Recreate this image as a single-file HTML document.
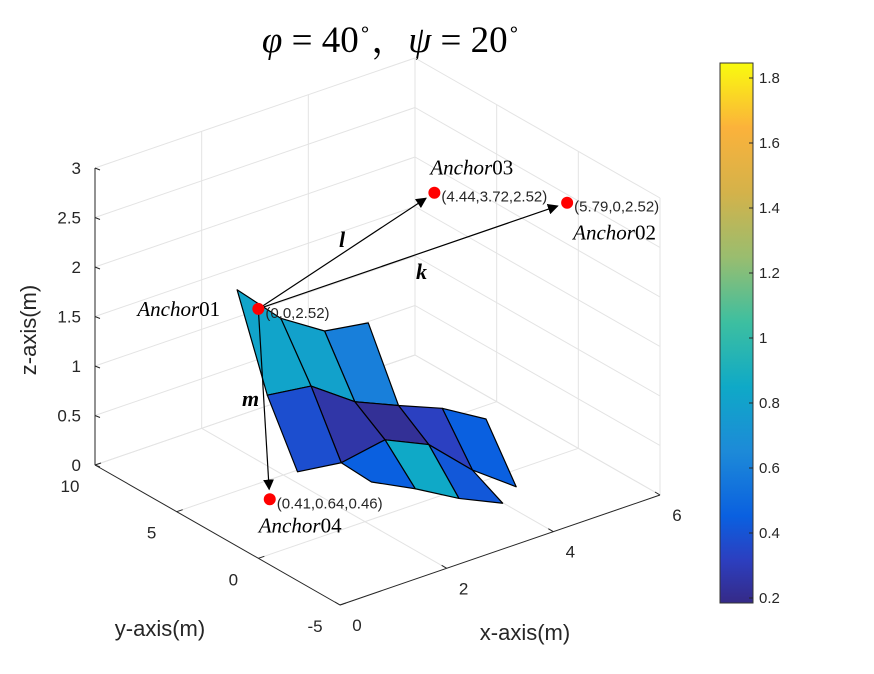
<!DOCTYPE html>
<html><head><meta charset="utf-8"><style>
body{margin:0;background:#fff;}
svg{display:block;font-family:"Liberation Sans",sans-serif;}
.ser{font-family:"Liberation Serif","Noto Serif CJK SC",serif;}
</style></head><body>
<svg id="chart" width="874" height="674" viewBox="0 0 874 674">
<defs>
<linearGradient id="parula" x1="0" y1="1" x2="0" y2="0">
<stop offset="0" stop-color="#352a87"/><stop offset="0.08" stop-color="#2c3fc0"/>
<stop offset="0.16" stop-color="#0a60e0"/><stop offset="0.28" stop-color="#1d8ad8"/>
<stop offset="0.4" stop-color="#0fa9c7"/><stop offset="0.52" stop-color="#3dbfa0"/>
<stop offset="0.64" stop-color="#99bd6f"/><stop offset="0.76" stop-color="#d4b24a"/>
<stop offset="0.88" stop-color="#fbb23b"/><stop offset="1" stop-color="#f9fb0e"/>
</linearGradient>
<marker id="arr" viewBox="0 0 10 10" refX="9" refY="5" markerWidth="9" markerHeight="9" orient="auto-start-reverse"><path d="M0,0L10,5L0,10z" fill="#000"/></marker>
</defs>
<text x="391" y="52" text-anchor="middle" class="ser" font-size="37"><tspan font-style="italic">φ</tspan> = 40<tspan font-size="20" dy="-16">∘</tspan><tspan dy="16">，</tspan><tspan font-style="italic">ψ</tspan> = 20<tspan font-size="20" dy="-16">∘</tspan></text>
<g id="grid"></g>
<g id="axes"></g>
<g id="surf"></g>
<g id="anno"></g>
<rect x="720" y="63" width="33" height="540" fill="url(#parula)" stroke="#333" stroke-width="1"/>
<g id="cbar"></g>
<text transform="translate(36,330) rotate(-90)" text-anchor="middle" font-size="22" fill="#262626">z-axis(m)</text>
<text x="160" y="636" text-anchor="middle" font-size="22" fill="#262626">y-axis(m)</text>
<text x="525" y="640" text-anchor="middle" font-size="22" fill="#262626">x-axis(m)</text>
</svg>
<script>
const xTicks=[0,2,4,6];
const yTicks=[-5,0,5,10];
const zTicks=[0,0.5,1,1.5,2,2.5,3];
const zTickLabels=["0","0.5","1","1.5","2","2.5","3"];
const cTicks=[0.2,0.4,0.6,0.8,1,1.2,1.4,1.6,1.8];
const gridX=[0,0.82,1.64,2.46,3.28,4.1];
const gridY=[1.3,-0.55,-2.4,-4.25];
const zRow0=[2.59,2.15,1.87,1.80,null,null];
const zRow1=[1.70,1.64,1.33,1.14,0.96,0.70];
const zRow2=[1.10,1.04,1.12,0.92,0.51,0.19];
const zRow3=[null,1.02,0.80,0.55,0.35,null];
const cRow0=[0.82,0.8,0.6,null,null];
const cRow1=[0.38,0.26,0.22,0.32,0.45];
const cRow2=[null,0.45,0.85,0.42,0.45];
const anchorNames=["Anchor01","Anchor02","Anchor03","Anchor04"];
const anchorX=[0,5.79,4.44,0.41];
const anchorY=[0,0,3.72,0.64];
const anchorZ=[2.52,2.52,2.52,0.46];
const anchorLabels=["(0,0,2.52)","(5.79,0,2.52)","(4.44,3.72,2.52)","(0.41,0.64,0.46)"];

const NS="http://www.w3.org/2000/svg";
const X0=0,X1=6,Y0=-5,Y1=10,Z0=0,Z1=3;
function P(x,y,z){const a=(x-X0)/(X1-X0),b=(y-Y0)/(Y1-Y0);
 return [340+320*a-245*b, 605-110*a-140*b-99*(z-Z0)];}
function el(t,at,parent){const e=document.createElementNS(NS,t);for(const k in at)e.setAttribute(k,at[k]);parent.appendChild(e);return e;}
const grid=document.getElementById('grid'),axes=document.getElementById('axes'),surf=document.getElementById('surf'),anno=document.getElementById('anno'),cbar=document.getElementById('cbar');
function line(p,q,g,st,w){return el('line',{x1:p[0],y1:p[1],x2:q[0],y2:q[1],stroke:st,'stroke-width':w},g);}
const gc="#e3e3e3";
for(const x of xTicks){let l=line(P(x,Y0,0),P(x,Y1,0),grid,gc,1);
 l=line(P(x,Y1,0),P(x,Y1,Z1),grid,gc,1);}
for(const y of yTicks){let l=line(P(X0,y,0),P(X1,y,0),grid,gc,1);
 l=line(P(X1,y,0),P(X1,y,Z1),grid,gc,1);}
for(const z of zTicks){let l=line(P(X0,Y1,z),P(X1,Y1,z),grid,gc,1);
 l=line(P(X1,Y1,z),P(X1,Y0,z),grid,gc,1);}
const ac="#262626";
let a=line(P(X0,Y1,0),P(X0,Y1,Z1),axes,ac,1);
a=line(P(X0,Y0,0),P(X1,Y0,0),axes,ac,1);
a=line(P(X0,Y0,0),P(X0,Y1,0),axes,ac,1);
zTicks.forEach((z,i)=>{const p=P(X0,Y1,z);line(p,[p[0]+5,p[1]+2],axes,ac,1);
 const t=el('text',{x:p[0]-14,y:p[1]+6,'text-anchor':'end','font-size':17,fill:ac},axes);t.textContent=zTickLabels[i];
 });
xTicks.forEach(x=>{const p=P(x,Y0,0);line(p,[p[0]-5,p[1]-3],axes,ac,1);
 const t=el('text',{x:p[0]+17,y:p[1]+26,'text-anchor':'middle','font-size':17,fill:ac},axes);t.textContent=x;
 });
yTicks.forEach(y=>{const p=P(X0,y,0);line(p,[p[0]+6,p[1]-2],axes,ac,1);
 const t=el('text',{x:p[0]-25,y:p[1]+27,'text-anchor':'middle','font-size':17,fill:ac},axes);t.textContent=y;
 });
const cstops=[[0,"#352a87"],[0.08,"#2c3fc0"],[0.16,"#0a60e0"],[0.28,"#1d8ad8"],[0.4,"#0fa9c7"],[0.52,"#3dbfa0"],[0.64,"#99bd6f"],[0.76,"#d4b24a"],[0.88,"#fbb23b"],[1,"#f9fb0e"]];
const CMIN=0.185,CMAX=1.846;
function hx(h){return [1,3,5].map(i=>parseInt(h.substr(i,2),16));}
function cmap(v){let t=Math.max(0,Math.min(1,(v-CMIN)/(CMAX-CMIN)));
 for(let i=1;i<cstops.length;i++){if(t<=cstops[i][0]){const a=hx(cstops[i-1][1]),b=hx(cstops[i][1]),f=(t-cstops[i-1][0])/(cstops[i][0]-cstops[i-1][0]);
 return 'rgb('+a.map((c,k)=>Math.round(c+(b[k]-c)*f)).join(',')+')';}}return cstops[9][1];}
cTicks.forEach(v=>{const y=598-(v-0.2)*325;line([753,y],[749,y],cbar,ac,1);
 const t=el('text',{x:759,y:y+5,'font-size':15,fill:ac},cbar);t.textContent=v;
 });
const Z=[zRow0,zRow1,zRow2,zRow3],C=[cRow0,cRow1,cRow2];
const cells=[];
for(let i=0;i<3;i++)for(let j=0;j<5;j++){
 const zs=[Z[i][j],Z[i][j+1],Z[i+1][j+1],Z[i+1][j]];
 if(zs.some(v=>v===null)||C[i][j]===null)continue;
 const pts=[P(gridX[j],gridY[i],zs[0]),P(gridX[j+1],gridY[i],zs[1]),P(gridX[j+1],gridY[i+1],zs[2]),P(gridX[j],gridY[i+1],zs[3])];
 const xm=(gridX[j]+gridX[j+1])/2,ym=(gridY[i]+gridY[i+1])/2;
 cells.push({pts,c:C[i][j],d:(xm-X0)/(X1-X0)+(ym-Y0)/(Y1-Y0)});}
cells.sort((a,b)=>b.d-a.d);
cells.forEach(c=>{const p=el('polygon',{points:c.pts.map(q=>q.join(',')).join(' '),fill:cmap(c.c),stroke:'#000','stroke-width':1.2,'stroke-linejoin':'round'},surf);
 });
const ap=anchorX.map((x,i)=>P(x,anchorY[i],anchorZ[i]));
function arrow(to,name){const s=ap[0],e=ap[to];const dx=e[0]-s[0],dy=e[1]-s[1],L=Math.hypot(dx,dy);
 const l=el('line',{x1:s[0],y1:s[1],x2:e[0]-dx/L*10,y2:e[1]-dy/L*10,stroke:'#000','stroke-width':1.2,'marker-end':'url(#arr)'},anno);
 }
arrow(2,'vector-l');arrow(1,'vector-k');arrow(3,'vector-m');
ap.forEach((p,i)=>{const c=el('circle',{cx:p[0],cy:p[1],r:6,fill:'#ff0000'},anno);
 
 const t=el('text',{x:p[0]+7,y:p[1]+9,'font-size':15,fill:'#262626'},anno);t.textContent=anchorLabels[i];
 });
const nameOff=[[-121,7],[6,37],[-4,-18],[-11,33]];
ap.forEach((p,i)=>{const t=el('text',{x:p[0]+nameOff[i][0],y:p[1]+nameOff[i][1],'font-size':21,class:'ser',fill:'#000'},anno);
 const n=anchorNames[i];const a1=document.createElementNS(NS,'tspan');a1.setAttribute('font-style','italic');a1.textContent=n.slice(0,6);t.appendChild(a1);
 const a2=document.createElementNS(NS,'tspan');a2.textContent=n.slice(6);t.appendChild(a2);
 });
[["l",339,247],["k",416,279],["m",242,406]].forEach(v=>{const t=el('text',{x:v[1],y:v[2],'font-size':22,'font-style':'italic','font-weight':'bold',class:'ser'},anno);t.textContent=v[0];
 });
</script>
</body></html>
